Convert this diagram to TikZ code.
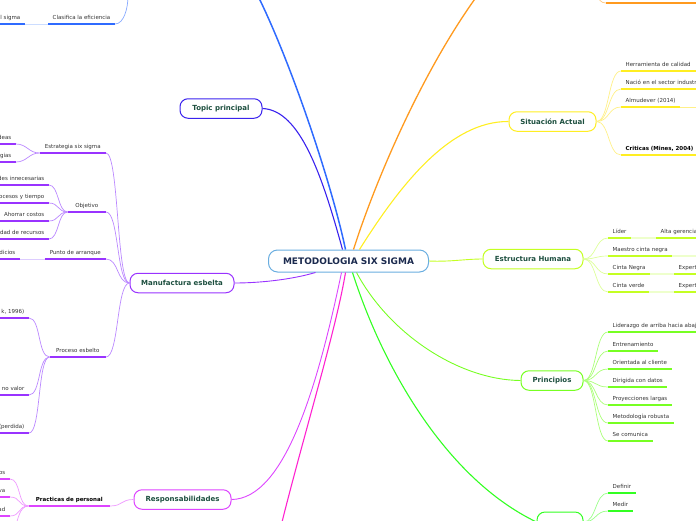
\documentclass[tikz,border=0pt]{standalone}
\usepackage{fontspec}
\setmainfont{DejaVu Sans}
\definecolor{ctext}{HTML}{1B2A4E}
\definecolor{ttext}{HTML}{1D4F3F}
\definecolor{stext}{HTML}{333333}
\definecolor{cbord}{HTML}{6AAEE0}
\definecolor{cblue}{HTML}{2F6BFF}
\definecolor{cblueL}{HTML}{88AAFF}
\definecolor{cblueLL}{HTML}{CCDDFF}
\definecolor{cindigo}{HTML}{3A22EE}
\definecolor{corange}{HTML}{FF9A1F}
\definecolor{corangeL}{HTML}{FFC880}
\definecolor{cyellow}{HTML}{FFEE22}
\definecolor{cyellowL}{HTML}{FFF088}
\definecolor{cyg}{HTML}{C4FF22}
\definecolor{cygL}{HTML}{DDFF99}
\definecolor{cygLL}{HTML}{EEFFCC}
\definecolor{clg}{HTML}{77FF22}
\definecolor{clgL}{HTML}{AAFF77}
\definecolor{cgreen}{HTML}{33FF22}
\definecolor{cgreenL}{HTML}{99FF88}
\definecolor{cmag}{HTML}{FF22D0}
\definecolor{cviol}{HTML}{DD44FF}
\definecolor{cviolL}{HTML}{EE99FF}
\definecolor{cpurp}{HTML}{9933FF}
\definecolor{cpurpL}{HTML}{BB88FF}
\definecolor{cpurpLL}{HTML}{DDCCFF}
\begin{document}
\begin{tikzpicture}[x=1pt,y=-1pt,
  subtxt/.style={font=\fontsize{5.5}{6.5}\selectfont, text=stext, inner xsep=4.5pt, inner ysep=3pt, text height=4pt, text depth=1pt},
  sub/.style={subtxt, append after command={(\tikzlastnode.south west) edge[draw=#1, line width=1.9pt] (\tikzlastnode.south east)}},
  alignL/.style={text width=#1, align=left},
  alignR/.style={text width=#1, align=right},
  topic/.style={draw=#1, line width=1pt, rounded corners=8pt, fill=white, text=ttext, font=\fontsize{7}{8.5}\selectfont\bfseries, minimum height=19.5pt, inner xsep=0pt},
  conn/.style={draw=#1, line width=0.7pt},
  lite/.style={draw=#1, line width=1.9pt},
  branch/.style={draw=#1, line width=1.1pt}
]
\useasboundingbox (0,0) rectangle (696,520);

% central and main topics
\node[draw=cbord, line width=1pt, rounded corners=9pt, fill=white, text=ctext, font=\fontsize{9}{11}\selectfont\bfseries, minimum width=160pt, minimum height=22pt] (c) at (348.5,261) {METODOLOGIA SIX SIGMA};
\node[topic=cindigo, minimum width=82pt] (tp) at (221,108.5) {Topic principal};
\node[topic=cpurp, minimum width=104pt] (mf) at (182,283) {Manufactura esbelta};
\node[topic=cviol, minimum width=97pt] (rs) at (182.5,499.5) {Responsabilidades};
\node[topic=cyellow, minimum width=87pt] (sa) at (552.5,121.5) {Situación Actual};
\node[topic=cyg, minimum width=100pt] (eh) at (533,259) {Estructura Humana};
\node[topic=clg, minimum width=62pt] (pr) at (552,380.5) {Principios};
\node[topic=cgreen, minimum width=46pt, minimum height=20pt] (bt) at (560,522) {};

% free ends
\coordinate (blueEnd) at (258,-4);
\coordinate (orangeEnd) at (477,-4);
\coordinate (magEnd) at (281,526);

% main branches
\draw[branch=cblue, line width=1.5pt] ([xshift=-3pt]c.north) .. controls (332,185) and (292,65) .. (blueEnd);
\draw[branch=cindigo] ([xshift=-6pt]c.north) .. controls (322,175) and (300,110) .. (tp.east);
\draw[branch=corange, line width=1.3pt] ([xshift=5pt]c.north) .. controls (374,185) and (420,75) .. (orangeEnd);
\draw[branch=cyellow] ([xshift=11pt]c.north) .. controls (400,185) and (450,121) .. (sa.west);
\draw[branch=cyg, line width=0.9pt] (c.east) .. controls (450,262) and (465,259) .. (eh.west);
\draw[branch=clg, line width=0.9pt] ([xshift=8pt]c.south) .. controls (390,335) and (460,380) .. (pr.west);
\draw[branch=cgreen] ([xshift=4pt]c.south) .. controls (382,365) and (445,478) .. (bt.west);
\draw[branch=cmag] ([xshift=-3pt]c.south) .. controls (336,330) and (305,430) .. (magEnd);
\draw[branch=cviol, line width=0.9pt] ([xshift=-7pt]c.south) .. controls (318,385) and (285,499) .. (rs.east);
\draw[branch=cpurp, line width=0.9pt] ([xshift=-33pt]c.south) .. controls (290,280) and (258,283) .. (mf.east);

% ---------- Situacion Actual
\node[sub=cyellow, anchor=south west, alignL=80pt] (s1) at (621,71) {Herramienta de calidad};
\node[sub=cyellow, anchor=south west, alignL=80pt] (s2) at (621,89) {Nació en el sector industr};
\node[sub=cyellow, anchor=south west] (s3) at (621,107) {Almudever (2014)};
\node[sub=cyellow, anchor=south west, alignL=80pt, text=black, font=\fontsize{5.5}{6.5}\selectfont\bfseries] (s4) at (621,155) {Criticas (Mines, 2004)};
\coordinate (s3e) at (700,107);
\draw[lite=cyellowL, line width=1pt] (s3.south east) -- (s3e);
\foreach \n in {s1,s2,s3,s4}
  \draw[conn=cyellowL] (sa.east) .. controls +(13,0) and +(-13,0) .. (\n.south west);

% ---------- Estructura Humana
\node[sub=cyg, anchor=south west] (e1) at (608,238) {Líder};
\node[sub=cyg, anchor=south west, alignL=45pt] (e1b) at (656,238) {Alta gerencia};
\node[sub=cyg, anchor=south west] (e2) at (608,256) {Maestro cinta negra};
\node[sub=cyg, anchor=south west] (e3) at (608,274) {Cinta Negra};
\node[sub=cyg, anchor=south west, alignL=30pt] (e3b) at (674,274) {Expert};
\node[sub=cyg, anchor=south west] (e4) at (608,292) {Cinta verde};
\node[sub=cyg, anchor=south west, alignL=30pt] (e4b) at (674,292) {Expert};
\coordinate (e2e) at (700,256);
\draw[lite=cygLL] (e1.south east) -- (e1b.south west);
\draw[lite=cygLL] (e2.south east) -- (e2e);
\draw[lite=cygLL] (e3.south east) -- (e3b.south west);
\draw[lite=cygLL] (e4.south east) -- (e4b.south west);
\foreach \n in {e1,e2,e3,e4}
  \draw[conn=cygL] (eh.east) .. controls +(13,0) and +(-13,0) .. (\n.south west);

% ---------- Principios
\node[sub=clg, anchor=south west, alignL=90pt] (p1) at (608,332) {Liderazgo de arriba hacia abaj};
\node[sub=clg, anchor=south west] (p2) at (608,351) {Entrenamiento};
\node[sub=clg, anchor=south west] (p3) at (608,369) {Orientada al cliente};
\node[sub=clg, anchor=south west] (p4) at (608,387) {Dirigida con datos};
\node[sub=clg, anchor=south west] (p5) at (608,405) {Proyecciones largas};
\node[sub=clg, anchor=south west] (p6) at (608,423) {Metodología robusta};
\node[sub=clg, anchor=south west] (p7) at (608,441) {Se comunica};
\foreach \n in {p1,p2,p3,p4,p5,p6,p7}
  \draw[conn=clgL] (pr.east) .. controls +(13,0) and +(-13,0) .. (\n.south west);

% ---------- bottom green topic
\node[sub=cgreen, anchor=south west] (b1) at (608,493) {Definir};
\node[sub=cgreen, anchor=south west] (b2) at (608,511) {Medir};
\foreach \n in {b1,b2}
  \draw[conn=cgreenL] (bt.east) .. controls +(13,0) and +(-13,0) .. (\n.south west);

% ---------- Manufactura esbelta
\node[sub=cpurp, anchor=south east, minimum width=66pt] (m1) at (106,153) {Estrategia six sigma};
\node[sub=cpurp, anchor=south east, alignR=50pt] (m11) at (16,144) {deas};
\node[sub=cpurp, anchor=south east, alignR=50pt] (m12) at (16,162) {gias};
\node[sub=cpurp, anchor=south east, minimum width=38pt] (m2) at (106,212) {Objetivo};
\node[sub=cpurp, anchor=south east, alignR=60pt] (m21) at (49,185) {des innecesarias};
\node[sub=cpurp, anchor=south east, alignR=60pt] (m22) at (49,203) {ocesos y tiempo};
\node[sub=cpurp, anchor=south east, alignR=60pt] (m23) at (49,221) {Ahorrar costos};
\node[sub=cpurp, anchor=south east, alignR=60pt] (m24) at (49,239) {dad de recursos};
\node[sub=cpurp, anchor=south east, minimum width=61pt] (m3) at (106,259) {Punto de arranque};
\node[sub=cpurp, anchor=south east, alignR=40pt] (m31) at (20,259) {dicios};
\node[sub=cpurp, anchor=south east, minimum width=56pt] (m4) at (106,357) {Proceso esbelto};
\node[sub=cpurp, anchor=south east, alignR=40pt] (m41) at (29,318) {k, 1996)};
\node[sub=cpurp, anchor=south east, alignR=40pt] (m42) at (29,395) {no valor};
\node[sub=cpurp, anchor=south east, alignR=40pt] (m43) at (29,433) {(perdida)};
\draw[lite=cpurpLL, line width=1pt] (m31.south east) -- (m3.south west);
\foreach \n in {m1,m2,m3,m4}
  \draw[conn=cpurpL] (mf.west) .. controls +(-13,0) and +(13,0) .. (\n.south east);
\foreach \n in {m11,m12}
  \draw[conn=cpurpL] (m1.south west) .. controls +(-11,0) and +(11,0) .. (\n.south east);
\foreach \n in {m21,m22,m23,m24}
  \draw[conn=cpurpL] (m2.south west) .. controls +(-10,0) and +(10,0) .. (\n.south east);
\foreach \n in {m41,m42,m43}
  \draw[conn=cpurpL] (m4.south west) .. controls +(-12,0) and +(12,0) .. (\n.south east);

% ---------- Responsabilidades
\node[sub=cviol, anchor=south east, minimum width=81pt, text=black, font=\fontsize{5.5}{6.5}\selectfont\bfseries] (r1) at (110,506) {Practicas de personal};
\node[sub=cviol, anchor=south east, alignR=30pt] (r11) at (10,479) {os};
\node[sub=cviol, anchor=south east, alignR=30pt] (r12) at (10,497) {va};
\node[sub=cviol, anchor=south east, alignR=30pt] (r13) at (10,516) {ad};
\coordinate (r14) at (14,530);
\draw[conn=cviolL] (rs.west) .. controls +(-13,0) and +(13,0) .. (r1.south east);
\foreach \n in {r11,r12,r13}
  \draw[conn=cviolL] (r1.south west) .. controls +(-11,0) and +(11,0) .. (\n.south east);
\draw[conn=cviolL] (r1.south west) .. controls +(-10,0) and +(4,-8) .. (r14);

% ---------- top-left blue branch
\node[sub=cblue, anchor=south east, minimum width=66pt] (t1) at (115,24) {Clasifica la eficiencia};
\node[sub=cblue, anchor=south east, alignR=40pt] (t11) at (25,24) {l sigma};
\coordinate (t1up) at (128,-4);
\draw[lite=cblueLL, line width=1pt] (t11.south east) -- (t1.south west);
\draw[conn=cblueL] (t1.south east) .. controls +(9,0) and +(0,12) .. (t1up);

% ---------- top-right orange fragment
\coordinate (o1) at (597,-8);
\coordinate (o2) at (606,3);
\coordinate (o3) at (700,3);
\draw[conn=corangeL] (o1) .. controls (598,0) and (601,3) .. (o2);
\draw[lite=corange] (o2) -- (o3);
\end{tikzpicture}
\end{document}
